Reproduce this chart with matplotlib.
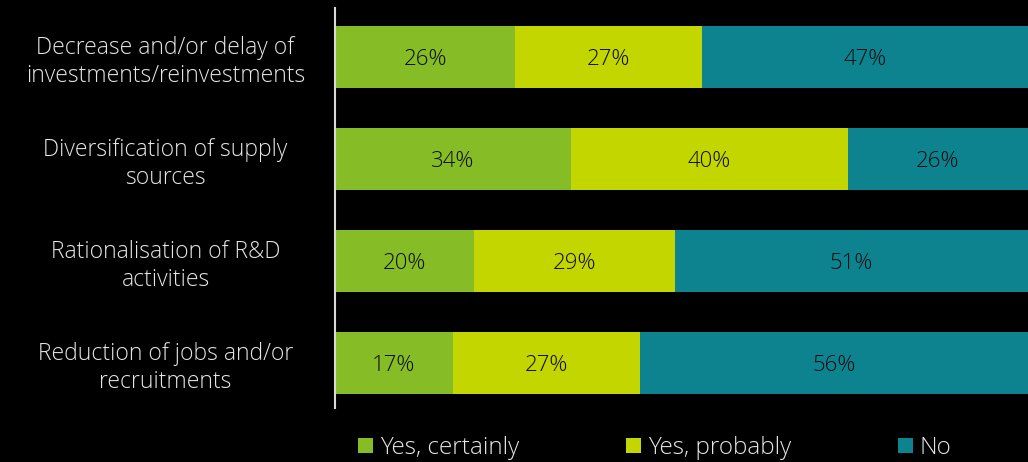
import matplotlib
matplotlib.use('Agg')
from matplotlib import pyplot as plt
import numpy as np

matplotlib.rcParams['font.family'] = ['Open Sans', 'DejaVu Sans']
matplotlib.rcParams['font.weight'] = 'light'

categories = ['Decrease and/or delay of\ninvestments/reinvestments',
              'Diversification of supply\nsources',
              'Rationalisation of R&D\nactivities',
              'Reduction of jobs and/or\nrecruitments']
series_names = ['Yes, certainly', 'Yes, probably', 'No']
yes_certainly = [26, 34, 20, 17]
yes_probably = [27, 40, 29, 27]
no = [47, 26, 51, 56]
colors = ['#86BC25', '#C4D600', '#0D8390']

fig = plt.figure(figsize=(10.28, 4.62), dpi=100, facecolor='black')
ax = fig.add_axes([335 / 1028, 54 / 462, 693 / 1028, 400 / 462])
ax.set_facecolor('black')

y = np.arange(len(categories))
left = np.zeros(len(categories))
for name, vals, c in zip(series_names, [yes_certainly, yes_probably, no], colors):
    bars = ax.barh(y, vals, left=left, height=0.61, color=c, label=name)
    for b, v in zip(bars, vals):
        ax.text(b.get_x() + b.get_width() / 2, b.get_y() + b.get_height() / 2,
                f'{v}%', ha='center', va='center_baseline', fontsize=16,
                color='#0d0d0d')
    left += np.array(vals)

ax.set_xlim(0, 100)
ax.set_ylim(3.44, -0.48)
ax.set_yticks(y)
ax.set_yticklabels(categories, fontsize=16.5, color='#e6e6e6', ha='center',
                   linespacing=1.2)
ax.tick_params(axis='y', length=0, pad=122)
ax.set_xticks([])
for s in ['top', 'right', 'bottom']:
    ax.spines[s].set_visible(False)
ax.spines['left'].set_color('#d9d9d9')
ax.spines['left'].set_linewidth(1.5)

fig.legend(loc='center left', bbox_to_anchor=(336 / 1028, 1 - 448 / 462),
           ncol=3, frameon=False, fontsize=17.5, labelcolor='#e6e6e6',
           handlelength=0.62, handleheight=0.62, handletextpad=0.28,
           columnspacing=4.4)

plt.savefig('out.png', facecolor='black')
